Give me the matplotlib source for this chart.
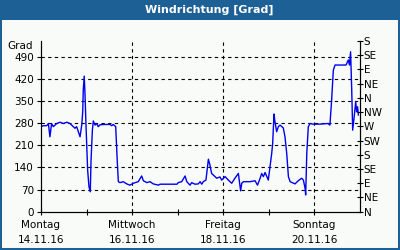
import matplotlib
matplotlib.use("Agg")
import matplotlib.pyplot as plt
from matplotlib.patches import Rectangle

# hours since Mo 14.11.16 00:00, wind direction in degrees
hours = [0.0, 1.2, 3.0, 3.9, 4.7, 5.6, 6.5, 8.3, 10.0, 11.8, 13.6, 15.3, 17.0,
         17.9, 18.8, 19.7, 20.6, 21.5, 22.0, 22.3, 22.8, 23.2, 23.7, 24.1,
         24.6, 25.3, 26.0, 26.4, 27.1, 27.6, 28.5, 29.4, 30.2, 31.1, 33.8,
         36.4, 37.3, 38.1, 39.4, 40.2, 40.8, 41.7, 43.4, 45.2, 46.9, 48.7,
         51.3, 53.1, 54.0, 55.8, 57.5, 59.2, 61.9, 62.8, 68.0, 71.7, 72.4,
         74.2, 76.0, 76.9, 78.6, 79.5, 81.2, 83.0, 83.9, 84.8, 85.6, 87.0,
         88.3, 89.1, 90.0, 90.9, 92.7, 94.4, 95.3, 97.1, 98.8, 100.6, 102.3,
         104.1, 105.3, 105.9, 106.8, 110.3, 112.9, 114.2, 115.6, 116.4, 117.3,
         118.2, 119.9, 120.8, 121.7, 122.2, 122.9, 123.4, 124.3, 125.2, 126.1,
         127.8, 128.7, 129.6, 130.5, 131.4, 134.0, 135.7, 137.5, 138.4, 139.3,
         139.6, 140.2, 141.0, 141.9, 143.5, 147.2, 151.4, 152.4, 153.3, 154.2,
         155.1, 156.7, 158.8, 160.9, 162.1, 162.7, 163.3, 163.9, 164.4, 165.1,
         166.0, 166.5, 167.0, 167.4]
grad = [269, 272, 272, 279, 237, 279, 269, 279, 283, 279, 283, 279, 269,
        264, 269, 253, 237, 275, 316, 385, 429, 374, 279, 216,
        132, 79, 63, 163, 258, 287, 274, 279, 269, 275, 276,
        276, 272, 276, 269, 163, 95, 92, 95, 88, 84, 90,
        95, 113, 98, 92, 95, 88, 84, 87, 87, 87, 92,
        95, 113, 95, 84, 92, 87, 88, 95, 87, 95, 100,
        166, 148, 121, 116, 106, 110, 100, 111, 100, 90, 106,
        121, 66, 90, 95, 95, 98, 84, 106, 121, 111,
        124, 100, 142, 185, 216, 309, 285, 253, 269, 274,
        265, 237, 185, 111, 95, 88, 98, 106, 100, 74,
        53, 185, 269, 279, 277, 277, 279, 274, 353, 448,
        464, 464, 464, 464, 480, 464, 506, 385, 258, 295,
        348, 316, 332, 306]

day_ticks = [0, 48, 96, 144]
day_labels = ["Montag\n14.11.16", "Mittwoch\n16.11.16",
              "Freitag\n18.11.16", "Sonntag\n20.11.16"]
grad_ticks = list(range(0, 491, 70))
dir_ticks = list(range(0, 541, 45))
dir_labels = ["N", "NE", "E", "SE", "S", "SW", "W", "NW",
              "N", "NE", "E", "SE", "S"]

blue = "#1c6096"
bg = "#f9fbf9"
fs = 7.5

fig = plt.figure(figsize=(4, 2.5), dpi=100, facecolor=bg)

# frame and title bar
fig.patches.append(Rectangle((0, 1 - 20 / 250), 1, 20 / 250, transform=fig.transFigure,
                             facecolor=blue, edgecolor="none", zorder=0))
fig.patches.append(Rectangle((0, 0), 1, 1, transform=fig.transFigure, fill=False,
                             edgecolor=blue, linewidth=2.9, zorder=1))
fig.text(209 / 400, 1 - 10 / 250, "Windrichtung [Grad]", color="white",
         fontsize=8, fontweight="bold", ha="center", va="center")

ax = fig.add_axes([41 / 400, 1 - 211.7 / 250, 318.5 / 400, 170.7 / 250])
ax.set_facecolor(bg)
ax.plot(hours, grad, color="#0000ee", linewidth=1.0, zorder=3)

ax.set_xlim(0, 168)
ax.set_ylim(0, 540)
ax.set_yticks(grad_ticks)
ax.set_yticklabels([str(v) for v in grad_ticks], fontsize=fs)
ax.set_xticks(day_ticks)
ax.set_xticklabels(day_labels, fontsize=fs, linespacing=1.6)
ax.set_xticks(range(24, 168, 48), minor=True)
ax.tick_params(axis="y", direction="out", length=3, width=0.8, pad=2)
ax.tick_params(axis="x", which="both", direction="inout", length=4, width=0.8, pad=4)

for v in grad_ticks[1:]:
    ax.axhline(v, color="black", linewidth=0.8, linestyle=(0, (3, 3)), zorder=1)
for d in day_ticks[1:]:
    ax.axvline(d, color="black", linewidth=0.8, linestyle=(0, (3, 3)), zorder=1)

ax.spines["top"].set_visible(False)
for s in ["left", "bottom", "right"]:
    ax.spines[s].set_linewidth(0.8)

ax.text(-0.025, 1.0, "Grad", transform=ax.transAxes, fontsize=fs,
        ha="right", va="top")

ax2 = ax.twinx()
ax2.set_ylim(0, 540)
ax2.set_yticks(dir_ticks)
ax2.set_yticklabels(dir_labels, fontsize=fs)
ax2.tick_params(axis="y", direction="inout", length=4, width=0.8, pad=1)
ax2.spines["top"].set_visible(False)
ax2.spines["right"].set_linewidth(0.8)

fig.savefig("out.png", dpi=100, facecolor=bg)
